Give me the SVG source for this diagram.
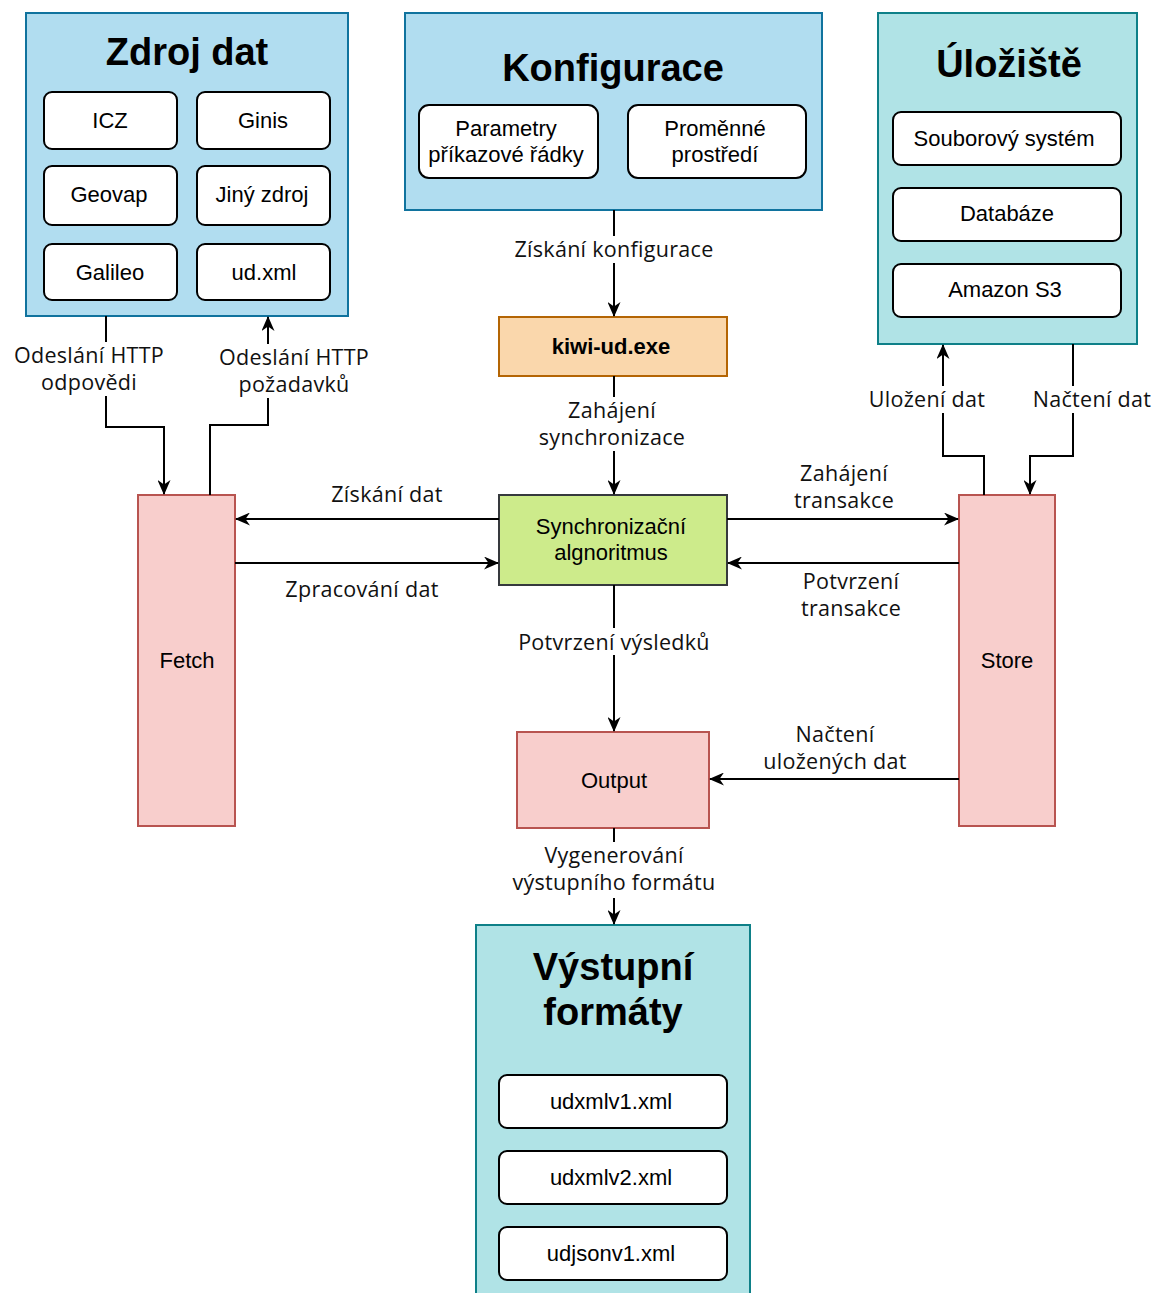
<svg xmlns="http://www.w3.org/2000/svg" width="1154" height="1293" viewBox="0 0 1154 1293">
<style>
.blue{fill:#b1ddf0;stroke:#10739e;stroke-width:2}
.teal{fill:#b0e3e6;stroke:#0e8088;stroke-width:2}
.red{fill:#f8cecc;stroke:#b85450;stroke-width:2}
.item{fill:#ffffff;stroke:#000000;stroke-width:2}
.t{font-family:"Liberation Sans",Arial,sans-serif;font-size:22px;fill:#000;text-anchor:middle}
.title{font-family:"Liberation Sans",Arial,sans-serif;font-size:38px;font-weight:bold;fill:#000;text-anchor:middle}
.lbl{font-family:"Open Sans","Noto Sans",sans-serif;font-size:21.5px;letter-spacing:0.3px;fill:#111;text-anchor:middle}
.bg{fill:#ffffff}
.ln{fill:none;stroke:#000;stroke-width:2;marker-end:url(#arr)}
</style>
<defs>
<marker id="arr" viewBox="0 0 15 13" refX="14" refY="6.5" markerWidth="15" markerHeight="13" markerUnits="userSpaceOnUse" orient="auto">
<path d="M0,0 L15,6.5 L0,13 L4.5,6.5 Z" fill="#000"/>
</marker>
</defs>
<rect width="1154" height="1293" fill="#ffffff"/>

<g id="zdroj-dat">
<rect class="blue" x="26" y="13" width="322" height="303"/>
<text class="title" x="187" y="65">Zdroj dat</text>
<rect class="item" x="44" y="92" width="133" height="57" rx="8"/>
<text class="t" x="110" y="128">ICZ</text>
<rect class="item" x="197" y="92" width="133" height="57" rx="8"/>
<text class="t" x="263" y="128">Ginis</text>
<rect class="item" x="44" y="166" width="133" height="59" rx="8"/>
<text class="t" x="109" y="202">Geovap</text>
<rect class="item" x="197" y="166" width="133" height="59" rx="8"/>
<text class="t" x="262" y="202">Jiný zdroj</text>
<rect class="item" x="44" y="244" width="133" height="56" rx="8"/>
<text class="t" x="110" y="280">Galileo</text>
<rect class="item" x="197" y="244" width="133" height="56" rx="8"/>
<text class="t" x="264" y="280">ud.xml</text>
</g>

<g id="konfigurace">
<rect class="blue" x="405" y="13" width="417" height="197"/>
<text class="title" x="613" y="81">Konfigurace</text>
<rect class="item" x="419" y="105" width="179" height="73" rx="10"/>
<text class="t" x="506" y="136">Parametry</text>
<text class="t" x="506" y="162">příkazové řádky</text>
<rect class="item" x="628" y="105" width="178" height="73" rx="10"/>
<text class="t" x="715" y="136">Proměnné</text>
<text class="t" x="715" y="162">prostředí</text>
</g>

<g id="uloziste">
<rect class="teal" x="878" y="13" width="259" height="331"/>
<text class="title" x="1009" y="77">Úložiště</text>
<rect class="item" x="893" y="112" width="228" height="53" rx="8"/>
<text class="t" x="1004" y="146">Souborový systém</text>
<rect class="item" x="893" y="188" width="228" height="53" rx="8"/>
<text class="t" x="1007" y="221">Databáze</text>
<rect class="item" x="893" y="264" width="228" height="53" rx="8"/>
<text class="t" x="1005" y="297">Amazon S3</text>
</g>

<g id="kiwi-ud">
<rect x="499" y="317" width="228" height="59" fill="#fad7ac" stroke="#b46504" stroke-width="2"/>
<text class="t" x="611" y="354" font-weight="bold">kiwi-ud.exe</text>
</g>

<g id="sync">
<rect x="499" y="495" width="228" height="90" fill="#cdeb8b" stroke="#36393d" stroke-width="2"/>
<text class="t" x="611" y="534">Synchronizační</text>
<text class="t" x="611" y="560">algnoritmus</text>
</g>

<g id="fetch">
<rect class="red" x="138" y="495" width="97" height="331"/>
<text class="t" x="187" y="668">Fetch</text>
</g>

<g id="store">
<rect class="red" x="959" y="495" width="96" height="331"/>
<text class="t" x="1007" y="668">Store</text>
</g>

<g id="output">
<rect class="red" x="517" y="732" width="192" height="96"/>
<text class="t" x="614" y="788">Output</text>
</g>

<g id="vystupni-formaty">
<rect class="teal" x="476" y="925" width="274" height="380"/>
<text class="title" x="613" y="980">Výstupní</text>
<text class="title" x="613" y="1025">formáty</text>
<rect class="item" x="499" y="1075" width="228" height="53" rx="8"/>
<text class="t" x="611" y="1109">udxmlv1.xml</text>
<rect class="item" x="499" y="1151" width="228" height="53" rx="8"/>
<text class="t" x="611" y="1185">udxmlv2.xml</text>
<rect class="item" x="499" y="1227" width="228" height="53" rx="8"/>
<text class="t" x="611" y="1261">udjsonv1.xml</text>
</g>

<g id="connectors">
<path class="ln" d="M614,210 L614,316"/>
<path class="ln" d="M614,376 L614,494"/>
<path class="ln" d="M499,519 L236,519"/>
<path class="ln" d="M235,563 L498,563"/>
<path class="ln" d="M727,519 L958,519"/>
<path class="ln" d="M959,563 L728,563"/>
<path class="ln" d="M614,585 L614,731"/>
<path class="ln" d="M959,779 L710,779"/>
<path class="ln" d="M614,828 L614,924"/>
<path class="ln" d="M106,316 L106,427 L164,427 L164,494"/>
<path class="ln" d="M210,495 L210,425 L268,425 L268,317"/>
<path class="ln" d="M984,495 L984,456 L943,456 L943,345"/>
<path class="ln" d="M1073,344 L1073,456 L1030,456 L1030,494"/>

<rect class="bg" x="511" y="236" width="206" height="27"/>
<text class="lbl" x="614" y="257">Získání konfigurace</text>
<rect class="bg" x="535" y="397" width="156" height="54"/>
<text class="lbl" x="612" y="418">Zahájení</text>
<text class="lbl" x="612" y="445">synchronizace</text>
<text class="lbl" x="387" y="502">Získání dat</text>
<text class="lbl" x="362" y="597">Zpracování dat</text>
<text class="lbl" x="844" y="481">Zahájení</text>
<text class="lbl" x="844" y="508">transakce</text>
<text class="lbl" x="851" y="589">Potvrzení</text>
<text class="lbl" x="851" y="616">transakce</text>
<rect class="bg" x="515" y="628" width="198" height="27"/>
<text class="lbl" x="614" y="650">Potvrzení výsledků</text>
<text class="lbl" x="835" y="742">Načtení</text>
<text class="lbl" x="835" y="769">uložených dat</text>
<rect class="bg" x="513" y="842" width="202" height="56"/>
<text class="lbl" x="614" y="863">Vygenerování</text>
<text class="lbl" x="614" y="890">výstupního formátu</text>
<rect class="bg" x="6" y="342" width="166" height="54"/>
<text class="lbl" x="89" y="363">Odeslání HTTP</text>
<text class="lbl" x="89" y="390">odpovědi</text>
<rect class="bg" x="210" y="344" width="168" height="54"/>
<text class="lbl" x="294" y="365">Odeslání HTTP</text>
<text class="lbl" x="294" y="392">požadavků</text>
<rect class="bg" x="865" y="386" width="124" height="27"/>
<text class="lbl" x="927" y="407">Uložení dat</text>
<rect class="bg" x="1030" y="386" width="124" height="27"/>
<text class="lbl" x="1092" y="407">Načtení dat</text>
</g>
</svg>
